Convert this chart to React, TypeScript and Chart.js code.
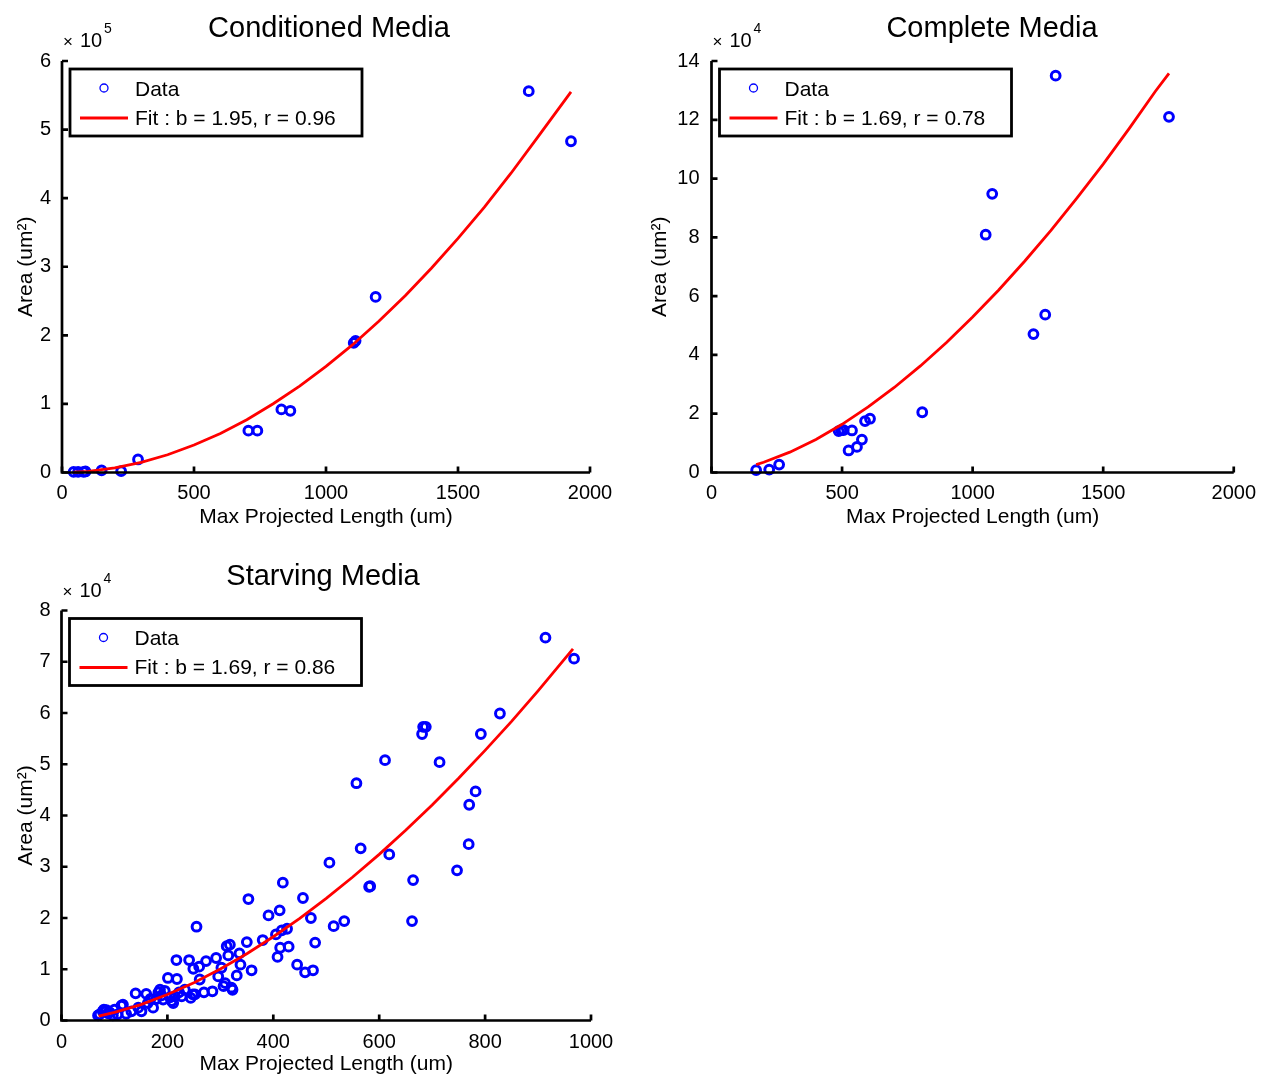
import React, { useEffect, useRef } from 'react';
import { Chart, registerables } from 'chart.js';

Chart.register(...registerables);

const FONT_FAMILY = '"Liberation Sans", Arial, Helvetica, sans-serif';
const DATA_COLOR = '#0000ff';
const FIT_COLOR = '#ff0000';

const X_LABEL = 'Max Projected Length (um)';
const Y_LABEL = 'Area (um²)';

// ---------- Conditioned Media ----------
const condLength = [44, 61, 82, 89, 150, 224, 288, 706, 740, 831, 865, 1105, 1112, 1188, 1768, 1928];
const condArea = [1000, 1000, 1000, 1500, 3000, 2000, 19000, 61000, 61000, 92000, 90000, 189000, 192000, 256000, 556000, 483000];
const condFitLength = [44, 100, 200, 300, 400, 500, 600, 700, 800, 900, 1000, 1100, 1200, 1300, 1400, 1500, 1600, 1700, 1800, 1928];
const condFitArea = [350, 1740, 6700, 14800, 25900, 40000, 56800, 77000, 100300, 125900, 154700, 186000, 220400, 257800, 298200, 341300, 386800, 436000, 488000, 555000];
const condXTicks = [0, 500, 1000, 1500, 2000];
const condYTicks = [0, 1, 2, 3, 4, 5, 6];

// ---------- Complete Media ----------
const compLength = [171, 221, 259, 487, 497, 506, 525, 538, 557, 576, 588, 607, 807, 1050, 1075, 1233, 1278, 1318, 1752];
const compArea = [800, 1000, 2700, 14100, 14400, 14400, 7500, 14300, 8700, 11200, 17500, 18300, 20500, 80900, 94800, 47100, 53700, 135000, 121000];
const compFitLength = [171, 200, 300, 400, 500, 600, 700, 800, 900, 1000, 1100, 1200, 1300, 1400, 1500, 1600, 1700, 1752];
const compFitArea = [2670, 3480, 6920, 11240, 16390, 22300, 28930, 36260, 44250, 52890, 62100, 71950, 82340, 93400, 104900, 117100, 129700, 135800];
const compXTicks = [0, 500, 1000, 1500, 2000];
const compYTicks = [0, 2, 4, 6, 8, 10, 12, 14];

// ---------- Starving Media ----------
const starvLength = [
  69, 72, 78, 80, 85, 88, 91, 97, 100, 106, 113, 116, 122, 132, 140, 145, 151, 160, 163, 168,
  173, 179, 183, 186, 189, 192, 195, 201, 205, 208, 211, 214, 217, 218, 222, 227, 233, 241, 244, 248,
  249, 252, 255, 260, 261, 269, 273, 285, 292, 296, 302, 306, 309, 312, 315, 318, 321, 323, 331, 336,
  338, 350, 353, 359, 380, 391, 405, 408, 412, 413, 416, 418, 426, 429, 445, 456, 460, 471, 475, 479,
  506, 514, 534, 557, 565, 581, 583, 611, 619, 662, 664, 681, 683, 688, 714, 747, 769, 770, 782, 792,
  828, 914, 968,
];
const starvArea = [
  1000, 1200, 1800, 2100, 2000, 1400, 1600, 1000, 2100, 1200, 2900, 3100, 1300, 1800, 5300, 2500, 1800, 5200, 3400, 4200,
  2500, 4200, 5500, 6000, 4900, 4100, 5800, 8300, 4500, 3800, 3400, 4700, 11800, 8100, 5500, 4700, 6000, 11800, 4400, 5100,
  10100, 5100, 18300, 10500, 8000, 5500, 11600, 5700, 12200, 8600, 10300, 6700, 7300, 14500, 12700, 14800, 6400, 6000, 8800, 13100,
  10900, 15300, 23700, 9800, 15700, 20500, 16800, 12400, 21500, 14200, 17600, 26900, 17900, 14400, 10900, 23900, 9400, 20000, 9800, 15200,
  30800, 18400, 19400, 46300, 33600, 26100, 26200, 50800, 32400, 19400, 27400, 55900, 57300, 57300, 50400, 29300, 34400, 42100, 44700, 55900,
  59900, 74700, 70600,
];
const starvFitLength = [70, 100, 150, 200, 250, 300, 350, 400, 450, 500, 550, 600, 650, 700, 750, 800, 850, 900, 966];
const starvFitArea = [860, 1570, 3110, 5060, 7380, 10060, 13030, 16340, 19930, 23830, 28000, 32420, 37110, 42050, 47260, 52710, 58370, 64320, 72500];
const starvXTicks = [0, 200, 400, 600, 800, 1000];
const starvYTicks = [0, 1, 2, 3, 4, 5, 6, 7, 8];

type PanelSpec = {
  key: string;
  title: string;
  exponent: number;
  length: number[];
  area: number[];
  fitLength: number[];
  fitArea: number[];
  fitLabel: string;
  xTicks: number[];
  yTicks: number[];
  left: number;
  top: number;
  width: number;
  height: number;
  yAxisWidth: number;
  padTop: number;
  padRight: number;
  xAxisHeight: number;
  yTitlePad: number;
  yTickPad: number;
  xTickPad: number;
  xTitlePad: number;
  titleX: number;
  titleY: number;
};

const PANELS: PanelSpec[] = [
  {
    key: 'cond', title: 'Conditioned Media', exponent: 5,
    length: condLength, area: condArea, fitLength: condFitLength, fitArea: condFitArea,
    fitLabel: 'Fit : b = 1.95, r = 0.96', xTicks: condXTicks, yTicks: condYTicks,
    left: 0, top: 0, width: 632, height: 548,
    yAxisWidth: 62, padTop: 61, padRight: 42, xAxisHeight: 75.5,
    yTitlePad: 13.4, yTickPad: 11, xTickPad: 9, xTitlePad: 18.4,
    titleX: 329, titleY: 37,
  },
  {
    key: 'comp', title: 'Complete Media', exponent: 4,
    length: compLength, area: compArea, fitLength: compFitLength, fitArea: compFitArea,
    fitLabel: 'Fit : b = 1.69, r = 0.78', xTicks: compXTicks, yTicks: compYTicks,
    left: 632, top: 0, width: 633, height: 548,
    yAxisWidth: 79.5, padTop: 61, padRight: 29, xAxisHeight: 75.5,
    yTitlePad: 15.4, yTickPad: 12, xTickPad: 9, xTitlePad: 18.4,
    titleX: 360, titleY: 37,
  },
  {
    key: 'starv', title: 'Starving Media', exponent: 4,
    length: starvLength, area: starvArea, fitLength: starvFitLength, fitArea: starvFitArea,
    fitLabel: 'Fit : b = 1.69, r = 0.86', xTicks: starvXTicks, yTicks: starvYTicks,
    left: 0, top: 548, width: 632, height: 530,
    yAxisWidth: 61.5, padTop: 62.5, padRight: 41, xAxisHeight: 57.5,
    yTitlePad: 13.4, yTickPad: 11, xTickPad: 9.5, xTitlePad: 1.4,
    titleX: 323, titleY: 37.4,
  },
];

function makePlugin(p: PanelSpec) {
  return {
    id: 'panelDecor_' + p.key,
    afterDatasetsDraw(chart: any) {
      const ctx = chart.ctx as CanvasRenderingContext2D;
      const { left, right, top, bottom } = chart.chartArea;
      const xs = chart.scales.x;
      const ys = chart.scales.y;
      ctx.save();
      ctx.strokeStyle = '#000';
      ctx.lineWidth = 2.7;
      ctx.lineJoin = 'miter';
      ctx.beginPath();
      ctx.moveTo(left, top);
      ctx.lineTo(left, bottom);
      ctx.lineTo(right, bottom);
      ctx.stroke();
      ctx.beginPath();
      xs.ticks.forEach((t: any) => {
        const px = xs.getPixelForValue(t.value);
        ctx.moveTo(px, bottom);
        ctx.lineTo(px, bottom - 6);
      });
      ys.ticks.forEach((t: any) => {
        const py = ys.getPixelForValue(t.value);
        ctx.moveTo(left, py);
        ctx.lineTo(left + 6, py);
      });
      ctx.stroke();
      ctx.restore();
    },
    afterDraw(chart: any) {
      const ctx = chart.ctx as CanvasRenderingContext2D;
      const { left, top } = chart.chartArea;
      const dsData = chart.data.datasets[0];
      const dsFit = chart.data.datasets[1];
      ctx.save();
      // title
      ctx.fillStyle = '#000';
      ctx.textAlign = 'center';
      ctx.textBaseline = 'alphabetic';
      ctx.font = `29px ${FONT_FAMILY}`;
      ctx.fillText(p.title, p.titleX, p.titleY);
      // exponent label
      ctx.textAlign = 'left';
      ctx.font = `17px ${FONT_FAMILY}`;
      ctx.fillText('×', left + 1, top - 14);
      ctx.font = `20px ${FONT_FAMILY}`;
      ctx.fillText('10', left + 18, top - 14);
      ctx.font = `14px ${FONT_FAMILY}`;
      ctx.fillText(String(p.exponent), left + 42, top - 28);
      // legend
      const bx = left + 8;
      const by = top + 8;
      const bw = 292;
      const bh = 67;
      ctx.fillStyle = '#fff';
      ctx.fillRect(bx, by, bw, bh);
      ctx.strokeStyle = '#000';
      ctx.lineWidth = 2.8;
      ctx.strokeRect(bx, by, bw, bh);
      ctx.beginPath();
      ctx.arc(bx + 34, by + 19, 4, 0, Math.PI * 2);
      ctx.lineWidth = 1.3;
      ctx.strokeStyle = dsData.borderColor;
      ctx.stroke();
      ctx.beginPath();
      ctx.moveTo(bx + 10, by + 49);
      ctx.lineTo(bx + 58, by + 49);
      ctx.lineWidth = 2.8;
      ctx.strokeStyle = dsFit.borderColor;
      ctx.stroke();
      ctx.fillStyle = '#000';
      ctx.font = `21px ${FONT_FAMILY}`;
      ctx.textBaseline = 'middle';
      ctx.fillText(dsData.label, bx + 65, by + 21);
      ctx.fillText(dsFit.label, bx + 65, by + 50);
      ctx.restore();
    },
  };
}

function Panel({ spec }: { spec: PanelSpec }) {
  const ref = useRef<HTMLCanvasElement | null>(null);
  useEffect(() => {
    if (!ref.current) return;
    const scale = Math.pow(10, spec.exponent);
    const pts = spec.length.map((x, i) => ({ x, y: spec.area[i] }));
    const fit = spec.fitLength.map((x, i) => ({ x, y: spec.fitArea[i] }));
    const xTickValues = spec.xTicks;
    const yTickValues = spec.yTicks.map((v) => v * scale);
    const chart = new Chart(ref.current, {
      type: 'scatter',
      data: {
        datasets: [
          {
            label: 'Data',
            data: pts,
            showLine: false,
            borderColor: DATA_COLOR,
            backgroundColor: 'rgba(0,0,0,0)',
            pointBackgroundColor: 'rgba(0,0,0,0)',
            pointBorderColor: DATA_COLOR,
            pointRadius: 4.4,
            pointBorderWidth: 3,
            pointHoverRadius: 4.4,
            clip: 8,
            order: 1,
          } as any,
          {
            label: spec.fitLabel,
            data: fit,
            showLine: true,
            borderColor: FIT_COLOR,
            backgroundColor: FIT_COLOR,
            borderWidth: 2.8,
            pointRadius: 0,
            pointHoverRadius: 0,
            tension: 0,
            fill: false,
            clip: 4,
            order: 0,
          } as any,
        ],
      },
      options: {
        animation: false,
        responsive: false,
        maintainAspectRatio: false,
        devicePixelRatio: 1,
        events: [],
        layout: { padding: { left: 0, right: spec.padRight, top: spec.padTop, bottom: 0 } },
        plugins: {
          legend: { display: false },
          title: { display: false },
          tooltip: { enabled: false },
        },
        scales: {
          x: {
            type: 'linear',
            min: xTickValues[0],
            max: xTickValues[xTickValues.length - 1],
            afterBuildTicks: (s: any) => {
              s.ticks = xTickValues.map((v) => ({ value: v }));
            },
            afterFit: (s: any) => {
              s.height = spec.xAxisHeight;
            },
            grid: { display: false, drawTicks: false },
            border: { display: false },
            ticks: {
              padding: spec.xTickPad,
              color: '#000',
              font: { family: FONT_FAMILY, size: 20 },
              maxRotation: 0,
              autoSkip: false,
              callback: (v: any) => String(v),
            },
            title: {
              display: true,
              text: X_LABEL,
              color: '#000',
              font: { family: FONT_FAMILY, size: 21 },
              padding: { top: 0, bottom: spec.xTitlePad },
            },
          },
          y: {
            type: 'linear',
            min: yTickValues[0],
            max: yTickValues[yTickValues.length - 1],
            afterBuildTicks: (s: any) => {
              s.ticks = yTickValues.map((v) => ({ value: v }));
            },
            afterFit: (s: any) => {
              s.width = spec.yAxisWidth;
            },
            grid: { display: false, drawTicks: false },
            border: { display: false },
            ticks: {
              padding: spec.yTickPad,
              color: '#000',
              font: { family: FONT_FAMILY, size: 20 },
              autoSkip: false,
              callback: (v: any) => String(Math.round((Number(v) / scale) * 1000) / 1000),
            },
            title: {
              display: true,
              text: Y_LABEL,
              color: '#000',
              font: { family: FONT_FAMILY, size: 21 },
              padding: { top: spec.yTitlePad, bottom: 0 },
            },
          },
        },
      } as any,
      plugins: [makePlugin(spec)],
    });
    return () => chart.destroy();
  }, [spec]);
  return (
    <canvas
      ref={ref}
      width={spec.width}
      height={spec.height}
      style={{ position: 'absolute', left: spec.left, top: spec.top, width: spec.width, height: spec.height, display: 'block' }}
    />
  );
}

export default function App() {
  return (
    <div style={{ position: 'absolute', left: 0, top: 0, width: 1265, height: 1078, background: '#fff', overflow: 'hidden' }}>
      {PANELS.map((p) => (
        <Panel key={p.key} spec={p} />
      ))}
    </div>
  );
}
